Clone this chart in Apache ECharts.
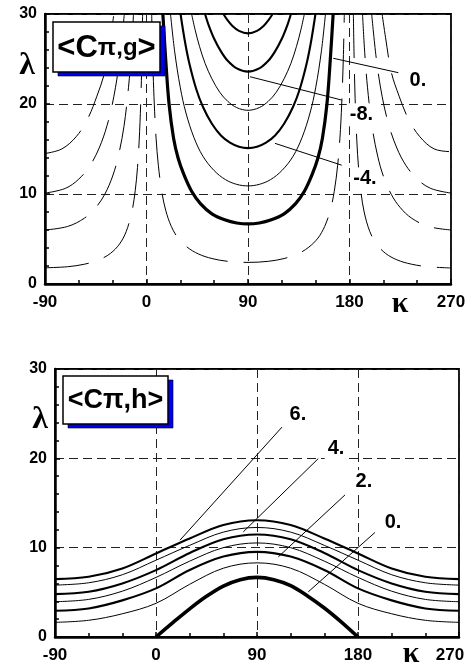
<!DOCTYPE html>
<html>
<head>
<meta charset="utf-8">
<script src="https://cdn.jsdelivr.net/npm/echarts@6/dist/echarts.min.js"></script>
<style>
  html, body { margin: 0; padding: 0; background: #fff; }
  #chart { width: 475px; height: 664px; }
</style>
</head>
<body>
<div id="chart"></div>
<script>
// ---- axes ----
const kappaTicks = [-90, 0, 90, 180, 270];
const lambdaTicks = [0, 10, 20, 30];

// ---- upper panel <Cπ,g>: contour lines as [kappa, lambda] ----
// solid, level 0 (heavy)
const gZero = [[14.5,30],[17,25],[20,20],[24,16.2],[28,14],[33,12.2],[40,10.3],[48,8.9],[58,7.8],[70,7.1],[80,6.78],[90,6.67],[100,6.78],[110,7.1],[122,7.8],[132,8.9],[140,10.3],[147,12.2],[152,14],[156,16.2],[160,20],[163,25],[165.5,30]];
// solid, level -2
const gMinus2 = [[21.3,30],[25,25.8],[30,21.8],[35,19],[42,16.3],[50,14.2],[60,12.6],[70,11.6],[80,11.07],[90,10.9],[100,11.07],[110,11.6],[120,12.6],[130,14.2],[138,16.3],[145,19],[150,21.8],[155,25.8],[158.7,30]];
// solid, level -4
const gMinus4 = [[30.2,30],[34,27],[38,24.5],[44,21.7],[50,19.7],[58,17.8],[66,16.5],[74,15.7],[82,15.25],[90,15.1],[98,15.25],[106,15.7],[114,16.5],[122,17.8],[130,19.7],[136,21.7],[142,24.5],[146,27],[149.8,30]];
// solid, level -6
const gMinus6 = [[40,30],[43,28.3],[47,26.4],[52,24.5],[58,22.8],[65,21.3],[72,20.3],[80,19.6],[90,19.3],[100,19.6],[108,20.3],[115,21.3],[122,22.8],[128,24.5],[133,26.4],[137,28.3],[140,30]];
// solid, level -8
const gMinus8 = [[51.9,30],[55,28.8],[60,27.25],[66,25.85],[72,24.8],[80,23.96],[90,23.6],[100,23.96],[108,24.8],[114,25.85],[120,27.25],[125,28.8],[128.1,30]];
// solid, level -10
const gMinus10 = [[68.2,30],[72,29.28],[76,28.7],[82,28.12],[90,27.85],[98,28.12],[104,28.7],[108,29.28],[111.8,30]];
// dashed (positive levels) between 0 and 180
const gPosMid = [[4.6,30],[5.5,25],[6.9,20],[8.5,16.2],[10.5,13.2],[13.5,10.3],[17,8.2],[22,6.4],[28,5.1],[36,4.1],[46,3.34],[58,2.83],[72,2.52],[90,2.4],[108,2.52],[122,2.83],[134,3.34],[144,4.1],[152,5.1],[158,6.4],[163,8.2],[166.5,10.3],[169.5,13.2],[171.5,16.2],[173.1,20],[174.5,25],[175.4,30]];
// dashed, left of 0
const gPosL1 = [[-90,1.8],[-70,1.92],[-55,2.2],[-42,2.69],[-32,3.4],[-24,4.43],[-18,5.83],[-13,8.0],[-10,10.37],[-8,12.93],[-6.5,15.9],[-5,20.6],[-4.1,25.1],[-3.44,30]];
const gPosL2 = [[-90,6.0],[-70,6.39],[-55,7.32],[-45,8.49],[-37,9.97],[-30,12],[-25,14.2],[-20,17.5],[-16,21.8],[-13.5,25.7],[-11.54,30]];
const gPosL3 = [[-90,10.1],[-72,10.62],[-60,11.66],[-50,13.18],[-42,15.1],[-35,17.6],[-29,20.8],[-24,24.8],[-19.67,30]];
const gPosL4 = [[-90,14.5],[-75,15.01],[-62,16.42],[-52,18.4],[-44,20.87],[-37,23.57],[-32,27.36],[-28.9,30]];
// dashed, right of 180
const gPosR1 = [[183.44,30],[184.1,25.1],[185,20.6],[186.5,15.9],[188,12.93],[190,10.37],[193,8.0],[198,5.83],[204,4.43],[212,3.4],[222,2.69],[235,2.2],[250,1.92],[270,1.78]];
const gPosR2 = [[191.54,30],[193.5,25.7],[196,21.8],[200,17.5],[205,14.2],[210,12],[217,9.97],[225,8.49],[235,7.32],[250,6.39],[270,6.0]];
const gPosR3 = [[199.67,30],[204,24.8],[209,20.8],[215,17.6],[222,15.1],[230,13.18],[240,11.66],[252,10.62],[270,10.1]];
const gPosR4 = [[208.9,30],[212,27.36],[217,23.57],[224,20.87],[232,18.4],[242,16.42],[255,15.01],[270,14.7]];

// contour labels of the upper panel and their leader lines
const gLabels = [
  { text: '0.',  at: [240.7, 22.6], from: [165.6, 25.08], to: [223.3, 23.48] },
  { text: '-8.', at: [190.6, 18.8], from: [91.8, 23.03],  to: [173.1, 20.44] },
  { text: '-4.', at: [193.7, 11.67], from: [113.9, 15.63], to: [173.1, 13.2] }
];

// ---- lower panel <Cπ,h>: contour lines as [kappa, lambda] ----
const hLevel0 = [[0,0],[15,1.6],[30,3.15],[45,4.55],[60,5.7],[75,6.42],[90,6.67],[105,6.42],[120,5.75],[135,4.6],[150,3.25],[165,1.7],[180,0]];
const hLevel1 = [[-90,1.64],[-60,1.87],[-30,2.6],[0,3.77],[30,5.9],[60,7.7],[90,8.3],[120,7.7],[150,5.9],[180,3.77],[210,2.6],[240,1.87],[270,1.64]];
const hLevel2 = [[-90,2.94],[-60,3.2],[-30,4.1],[0,5.44],[30,7.5],[60,9.0],[90,9.53],[120,9.0],[150,7.5],[180,5.44],[210,4.1],[240,3.2],[270,2.94]];
const hLevel3 = [[-90,3.95],[-60,4.21],[-30,5.13],[0,6.67],[30,8.49],[60,10.0],[90,10.53],[120,10.0],[150,8.49],[180,6.67],[210,5.13],[240,4.21],[270,3.95]];
const hLevel4 = [[-90,4.8],[-60,5.07],[-30,6.0],[0,7.49],[30,9.4],[60,10.94],[90,11.47],[120,10.94],[150,9.4],[180,7.49],[210,6.0],[240,5.07],[270,4.8]];
const hLevel5 = [[-90,5.81],[-60,6.07],[-30,6.97],[0,8.6],[30,10.26],[60,11.74],[90,12.26],[120,11.74],[150,10.26],[180,8.6],[210,6.97],[240,6.07],[270,5.81]];
const hLevel6 = [[-90,6.48],[-60,6.74],[-30,7.67],[0,9.35],[30,11.03],[60,12.54],[90,13.07],[120,12.54],[150,11.03],[180,9.35],[210,7.67],[240,6.74],[270,6.48]];

const hLabels = [
  { text: '6.', at: [126.5, 24.9], from: [21.4, 10.84], to: [112.3, 23.5] },
  { text: '4.', at: [160.4, 21.1], from: [77.8, 11.77], to: [144.6, 19.97] },
  { text: '2.', at: [185.3, 17.4], from: [109, 8.97],   to: [168.4, 15.9] },
  { text: '0.', at: [211.2, 12.85], from: [135.7, 5.06], to: [195.1, 11.7] }
];

// ---- styling helpers ----
const SANS = '"Liberation Sans", Arial, Helvetica, sans-serif';
const SERIF = '"Liberation Serif", "Times New Roman", serif';
const W_THIN = 1, W_BOLD = 2.1, W_HEAVY = 3.2;
const DASH = [44, 16];

function curve(data, gi, width, dashed) {
  return {
    type: 'line', xAxisIndex: gi, yAxisIndex: gi, data: data,
    showSymbol: false, symbol: 'none', silent: true, clip: true,
    smooth: 0.35, z: 3,
    lineStyle: { color: '#000', width: width, type: dashed ? DASH : 'solid', cap: 'butt' }
  };
}

function leader(item, gi) {
  return {
    type: 'line', xAxisIndex: gi, yAxisIndex: gi, data: [item.from, item.to],
    showSymbol: false, symbol: 'none', silent: true, z: 4,
    lineStyle: { color: '#000', width: 1 }
  };
}

function kAxis(gi, shiftLast) {
  return {
    gridIndex: gi, type: 'value', min: -90, max: 270, interval: 90,
    axisLine: { show: true, onZero: false, lineStyle: { color: '#000', width: 2.5 } },
    axisTick: { show: true, inside: true, length: 5, lineStyle: { color: '#000', width: 1.5 } },
    minorTick: { show: true, splitNumber: 3, length: 4, lineStyle: { color: '#000', width: 1.5 } },
    splitLine: { show: true, lineStyle: { color: '#222', width: 1, type: [9, 5] } },
    axisLabel: {
      show: true, margin: 10, color: '#000', fontFamily: SANS, fontWeight: 'bold', fontSize: 17,
      showMinLabel: true, showMaxLabel: true,
      formatter: v => {
        if (!kappaTicks.includes(v)) return '';
        if (shiftLast && v === 270) return '{s|' + v + '}';
        return String(v);
      },
      rich: { s: { fontFamily: SANS, fontWeight: 'bold', fontSize: 17, color: '#000', padding: [0, 18, 0, 0] } }
    }
  };
}

function lAxis(gi) {
  return {
    gridIndex: gi, type: 'value', min: 0, max: 30, interval: 10,
    axisLine: { show: true, onZero: false, lineStyle: { color: '#000', width: 2.5 } },
    axisTick: { show: true, inside: true, length: 5, lineStyle: { color: '#000', width: 1.5 } },
    minorTick: { show: true, splitNumber: 5, length: 4, lineStyle: { color: '#000', width: 1.5 } },
    splitLine: { show: true, lineStyle: { color: '#222', width: 1, type: [9, 5] } },
    axisLabel: {
      show: true, margin: 8, color: '#000', fontFamily: SANS, fontWeight: 'bold', fontSize: 16,
      showMinLabel: true, showMaxLabel: true,
      formatter: v => lambdaTicks.includes(v) ? String(v) : ''
    }
  };
}

function legendBox(x, y, w, h, rich, text) {
  return {
    type: 'group', z: 50, children: [
      { type: 'rect', shape: { x: x + 5, y: y + 4, width: w, height: h },
        style: { fill: '#0000f0', stroke: '#000', lineWidth: 0.6 }, z: 50 },
      { type: 'rect', shape: { x: x, y: y, width: w, height: h },
        style: { fill: '#fff', stroke: '#000', lineWidth: 1.5 }, z: 51 },
      { type: 'text', x: x + w / 2, y: y + h / 2 + 1, z: 52,
        style: { text: text, rich: rich, align: 'center', verticalAlign: 'middle' } }
    ]
  };
}

const series = [
  // upper panel
  curve(gPosL1, 0, W_THIN, true), curve(gPosL2, 0, W_THIN, true),
  curve(gPosL3, 0, W_THIN, true), curve(gPosL4, 0, W_THIN, true),
  curve(gPosR1, 0, W_THIN, true), curve(gPosR2, 0, W_THIN, true),
  curve(gPosR3, 0, W_THIN, true), curve(gPosR4, 0, W_THIN, true),
  curve(gPosMid, 0, W_THIN, true),
  curve(gZero, 0, W_HEAVY, false),
  curve(gMinus2, 0, W_THIN, false),
  curve(gMinus4, 0, W_BOLD, false),
  curve(gMinus6, 0, W_THIN, false),
  curve(gMinus8, 0, W_BOLD, false),
  curve(gMinus10, 0, W_BOLD, false),
  ...gLabels.map(it => leader(it, 0)),
  // lower panel
  curve(hLevel0, 1, W_HEAVY + 0.4, false),
  curve(hLevel1, 1, W_THIN, false),
  curve(hLevel2, 1, W_BOLD, false),
  curve(hLevel3, 1, W_THIN, false),
  curve(hLevel4, 1, W_BOLD, false),
  curve(hLevel5, 1, W_THIN, false),
  curve(hLevel6, 1, W_BOLD, false),
  ...hLabels.map(it => leader(it, 1))
];

const chart = echarts.init(document.getElementById('chart'), null, { renderer: 'canvas' });
chart.setOption({
  animation: false,
  backgroundColor: '#fff',
  grid: [
    { left: 45, top: 14, width: 406, height: 270, show: true, borderColor: '#000', borderWidth: 1.8, backgroundColor: 'transparent' },
    { left: 55, top: 369, width: 404, height: 268, show: true, borderColor: '#000', borderWidth: 1.8, backgroundColor: 'transparent' }
  ],
  xAxis: [kAxis(0, false), kAxis(1, true)],
  yAxis: [lAxis(0), lAxis(1)],
  series: series
});

// contour value labels, placed through the grid's own coordinate system
function valueLabels(items, gi) {
  return items.map(it => {
    const p = chart.convertToPixel({ gridIndex: gi }, it.at);
    return {
      type: 'text', x: p[0], y: p[1], z: 30,
      style: {
        text: it.text, fontFamily: SANS, fontWeight: 'bold', fontSize: 20, fill: '#000',
        align: 'center', verticalAlign: 'middle', backgroundColor: '#fff', padding: [2, 3, 1, 3]
      }
    };
  });
}

chart.setOption({
  graphic: [
    ...valueLabels(gLabels, 0),
    ...valueLabels(hLabels, 1),
    legendBox(53, 22, 107, 50, {
      b: { fontFamily: SANS, fontWeight: 'bold', fontSize: 31, fill: '#000' },
      s: { fontFamily: SANS, fontWeight: 'bold', fontSize: 24, fill: '#000' }
    }, '{b|<C}{s|\u03c0,g}{b|>}'),
    legendBox(63, 376, 105, 48, {
      b: { fontFamily: SANS, fontWeight: 'bold', fontSize: 27, fill: '#000' }
    }, '{b|<C\u03c0,h>}'),
    { type: 'text', x: 27, y: 66, z: 40, style: { text: '\u03bb', fontFamily: SERIF, fontWeight: 'bold', fontSize: 32, fill: '#000', align: 'center', verticalAlign: 'middle' } },
    { type: 'text', x: 40, y: 420, z: 40, style: { text: '\u03bb', fontFamily: SERIF, fontWeight: 'bold', fontSize: 32, fill: '#000', align: 'center', verticalAlign: 'middle' } },
    { type: 'text', x: 400, y: 304, z: 40, style: { text: '\u03ba', fontFamily: SERIF, fontWeight: 'bold', fontSize: 30, fill: '#000', align: 'center', verticalAlign: 'middle' } },
    { type: 'text', x: 411, y: 654, z: 40, style: { text: '\u03ba', fontFamily: SERIF, fontWeight: 'bold', fontSize: 30, fill: '#000', align: 'center', verticalAlign: 'middle' } }
  ]
});
</script>
</body>
</html>
